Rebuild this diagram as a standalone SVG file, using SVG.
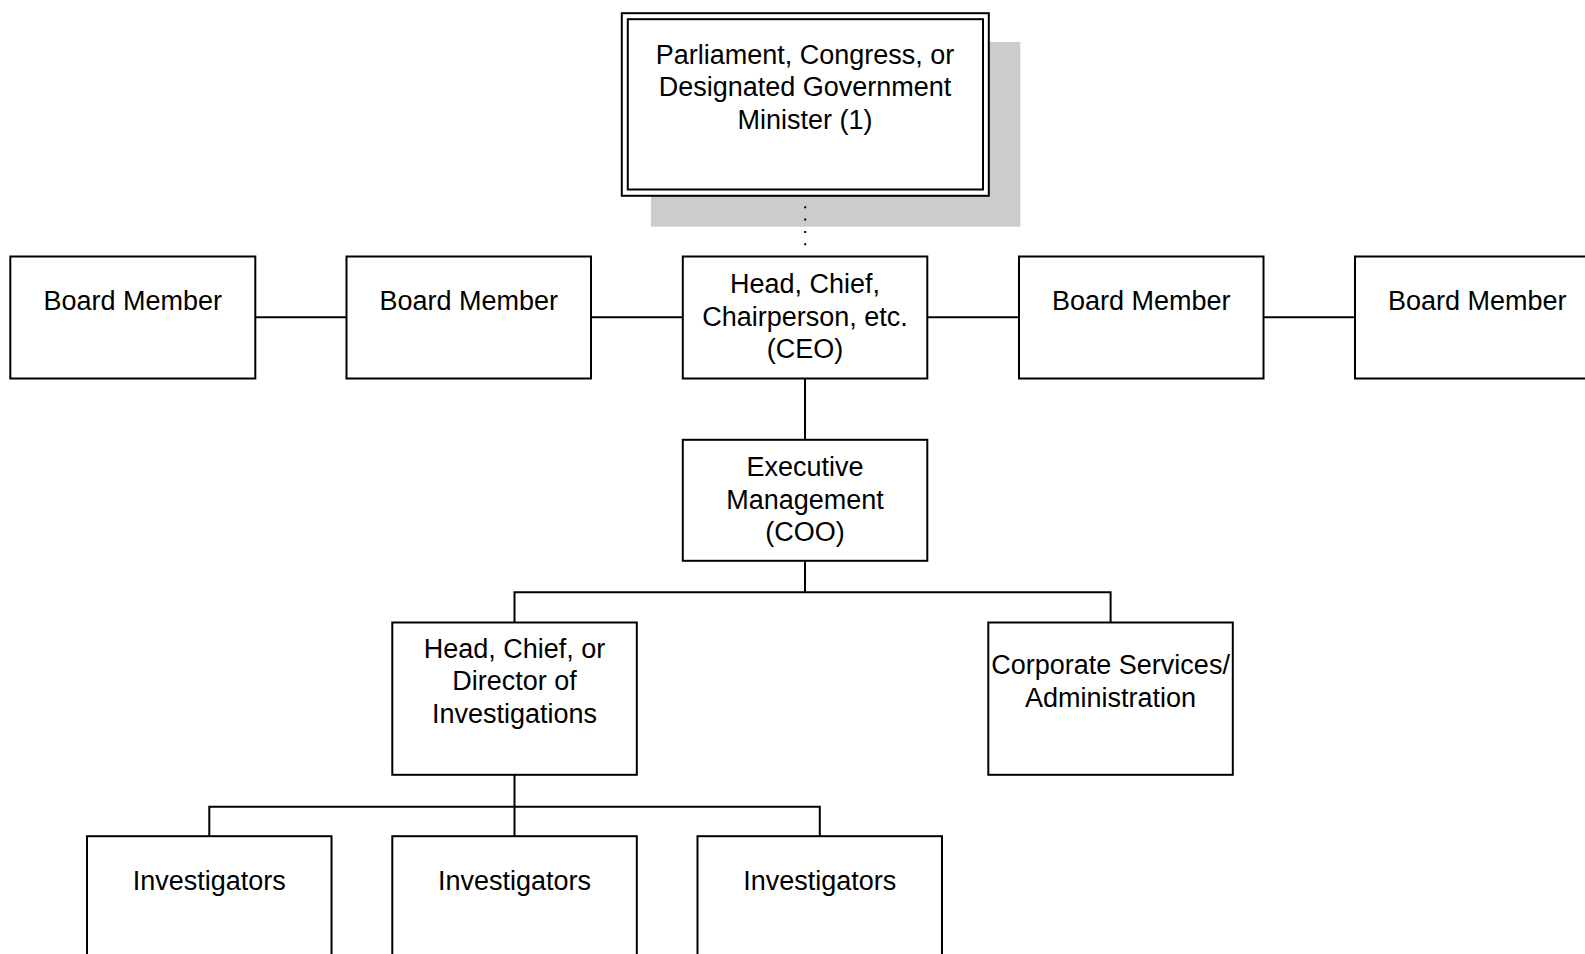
<svg xmlns="http://www.w3.org/2000/svg" width="1585" height="954" viewBox="0 0 1585 954">
<style>
.box{fill:#fff;stroke:#000;stroke-width:2}
.ln{stroke:#000;stroke-width:2;fill:none}
.t{font-family:"Liberation Sans",Arial,sans-serif;font-size:27px;fill:#000;text-anchor:middle}
</style>
<rect width="1585" height="954" fill="#fff"/>
<g id="parliament">
<rect x="651" y="42" width="369.3" height="184.7" fill="#cccccc"/>
<rect class="box" x="621.8" y="13.2" width="367" height="182.6"/>
<rect class="box" x="627.8" y="19.2" width="355.2" height="170.3"/>
<text class="t" x="805" y="63.5">Parliament, Congress, or</text>
<text class="t" x="805" y="96">Designated Government</text>
<text class="t" x="805" y="128.5">Minister (1)</text>
</g>
<g id="connectors">
<line class="ln" x1="805.2" y1="206.3" x2="805.2" y2="246" stroke-dasharray="2 10.3"/>
<line class="ln" x1="255.3" y1="317.3" x2="346.5" y2="317.3"/>
<line class="ln" x1="591" y1="317.3" x2="682.8" y2="317.3"/>
<line class="ln" x1="927.3" y1="317.3" x2="1019" y2="317.3"/>
<line class="ln" x1="1263.5" y1="317.3" x2="1355" y2="317.3"/>
<line class="ln" x1="805" y1="378.5" x2="805" y2="439.8"/>
<line class="ln" x1="805" y1="560.8" x2="805" y2="592.2"/>
<polyline class="ln" points="514.5,622.5 514.5,592.2 1110.6,592.2 1110.6,622.5"/>
<line class="ln" x1="514.5" y1="774.8" x2="514.5" y2="836.2"/>
<polyline class="ln" points="209.3,836.2 209.3,806.8 819.8,806.8 819.8,836.2"/>
</g>
<g id="board1">
<rect class="box" x="10.3" y="256.5" width="245" height="122"/>
<text class="t" x="132.8" y="309.5">Board Member</text>
</g>
<g id="board2">
<rect class="box" x="346.5" y="256.5" width="244.5" height="122"/>
<text class="t" x="468.8" y="309.5">Board Member</text>
</g>
<g id="ceo">
<rect class="box" x="682.8" y="256.5" width="244.5" height="122"/>
<text class="t" x="805" y="293.3">Head, Chief,</text>
<text class="t" x="805" y="325.8">Chairperson, etc.</text>
<text class="t" x="805" y="358.3">(CEO)</text>
</g>
<g id="board3">
<rect class="box" x="1019" y="256.5" width="244.5" height="122"/>
<text class="t" x="1141.3" y="309.5">Board Member</text>
</g>
<g id="board4">
<rect class="box" x="1355" y="256.5" width="244.5" height="122"/>
<text class="t" x="1477.3" y="309.5">Board Member</text>
</g>
<g id="exec">
<rect class="box" x="682.8" y="439.8" width="244.5" height="121"/>
<text class="t" x="805" y="476">Executive</text>
<text class="t" x="805" y="508.5">Management</text>
<text class="t" x="805" y="541">(COO)</text>
</g>
<g id="investigations">
<rect class="box" x="392.3" y="622.5" width="244.5" height="152.3"/>
<text class="t" x="514.5" y="657.5">Head, Chief, or</text>
<text class="t" x="514.5" y="690">Director of</text>
<text class="t" x="514.5" y="722.5">Investigations</text>
</g>
<g id="corporate">
<rect class="box" x="988.3" y="622.5" width="244.5" height="152.3"/>
<text class="t" x="1110.6" y="674.4">Corporate Services/</text>
<text class="t" x="1110.6" y="706.8">Administration</text>
</g>
<g id="inv1">
<rect class="box" x="87" y="836.2" width="244.5" height="200"/>
<text class="t" x="209.3" y="889.5">Investigators</text>
</g>
<g id="inv2">
<rect class="box" x="392.3" y="836.2" width="244.5" height="200"/>
<text class="t" x="514.5" y="889.5">Investigators</text>
</g>
<g id="inv3">
<rect class="box" x="697.5" y="836.2" width="244.5" height="200"/>
<text class="t" x="819.8" y="889.5">Investigators</text>
</g>
</svg>
